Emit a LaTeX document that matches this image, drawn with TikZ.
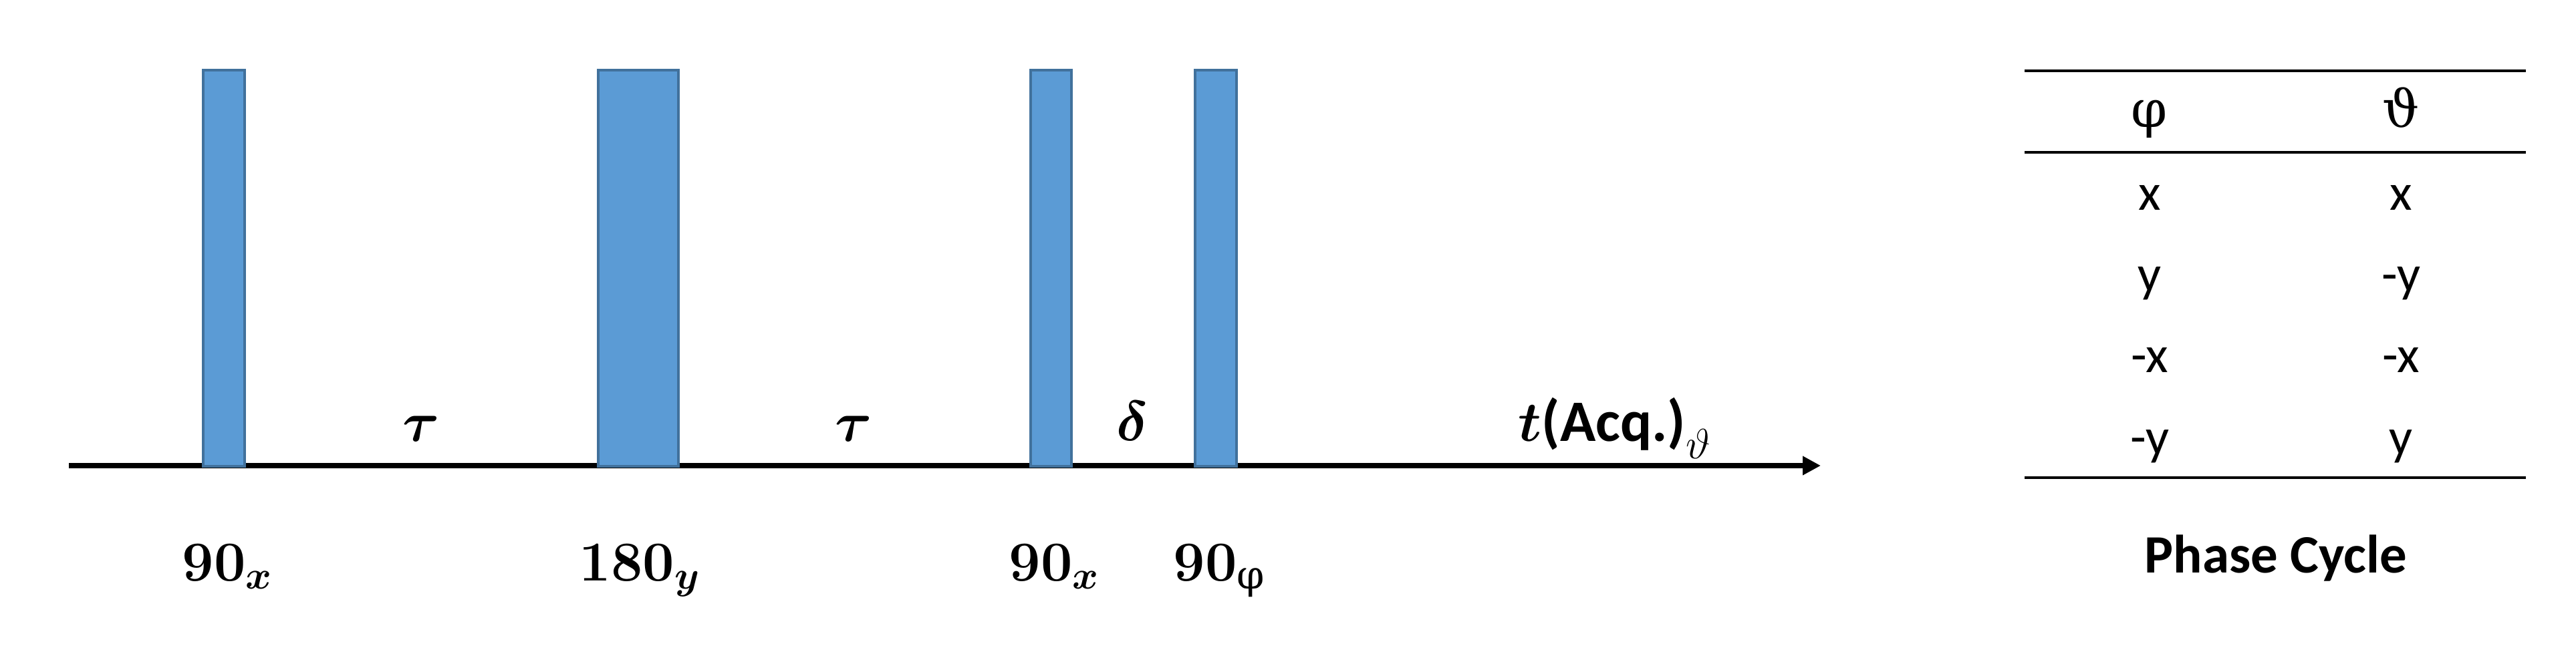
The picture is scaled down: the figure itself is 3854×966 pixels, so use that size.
\RequirePackage{fix-cm}
\documentclass[tikz,border=0pt]{standalone}
\usepackage{amsmath,bm}
\usepackage[no-math]{fontspec}
\setmainfont{Carlito}
\newfontfamily\grk{DejaVu Serif}
\usetikzlibrary{arrows.meta}
\definecolor{pulsefill}{HTML}{5B9BD5}
\definecolor{pulseedge}{HTML}{41719C}
\tikzset{
  pulsebox/.style={fill=pulsefill, draw=pulseedge, line width=0.9pt},
  axisline/.style={line width=2.4pt, -{Triangle[length=0.27cm,width=0.27cm]}},
  rulel/.style={line width=1.1pt},
  lab/.style={inner sep=0pt, font=\fontsize{24}{28}\selectfont},
  tab/.style={inner sep=0pt, anchor=base, font=\fontsize{22}{26}\selectfont},
}
\begin{document}
\begin{tikzpicture}[x=0.01cm, y=-0.01cm]
\useasboundingbox (0,0) rectangle (3854,966);
% axis
\coordinate (a0) at (103,697);
\coordinate (a1) at (2724,697);
\draw[axisline] (a0) -- (a1);
% pulses
\draw[pulsebox] (304,105) rectangle (366,698);
\draw[pulsebox] (895,105) rectangle (1015,698);
\draw[pulsebox] (1542,105) rectangle (1603,698);
\draw[pulsebox] (1788,105) rectangle (1850,698);
% delays
\node[lab, anchor=base] (tau1) at (630,660) {$\bm{\tau}$};
\node[lab, anchor=base] (tau2) at (1277,660) {$\bm{\tau}$};
\node[lab, anchor=base] (delta) at (1694,659) {$\bm{\delta}$};
\node[lab, anchor=base west] (acq) at (2271,660) {$\bm{t}$\textbf{\fontsize{25}{29}\selectfont(Acq.)}\raisebox{-7.5pt}{\fontsize{18}{20}\selectfont$\vartheta$}};
% pulse labels
\node[lab, anchor=base west] (l1) at (272,869) {$\mathbf{90}_{\bm{x}}$};
\node[lab, anchor=base west] (l2) at (866,869) {$\mathbf{180}_{\bm{y}}$};
\node[lab, anchor=base west] (l3) at (1509,869) {$\mathbf{90}_{\bm{x}}$};
\node[lab, anchor=base west] (l4) at (1755,869) {$\mathbf{90}_{\text{\grk φ}}$};
% table
\coordinate (t0l) at (3029,106); \coordinate (t0r) at (3779,106);
\coordinate (t1l) at (3029,228); \coordinate (t1r) at (3779,228);
\coordinate (t2l) at (3029,715); \coordinate (t2r) at (3779,715);
\draw[rulel] (t0l) -- (t0r);
\draw[rulel] (t1l) -- (t1r);
\draw[rulel] (t2l) -- (t2r);
\node[tab] (hphi) at (3216,190) {\grk φ};
\node[tab] (hth) at (3592,190) {\grk ϑ};
\node[tab] (r1a) at (3216,314) {x};
\node[tab] (r1b) at (3592,314) {x};
\node[tab] (r2a) at (3216,436) {y};
\node[tab] (r2b) at (3592,436) {-y};
\node[tab] (r3a) at (3216,557) {-x};
\node[tab] (r3b) at (3592,557) {-x};
\node[tab] (r4a) at (3216,680) {-y};
\node[tab] (r4b) at (3592,680) {y};
\node[tab, font=\fontsize{23}{27}\selectfont\bfseries] (pc) at (3405,857) {Phase Cycle};
\end{tikzpicture}
\end{document}
